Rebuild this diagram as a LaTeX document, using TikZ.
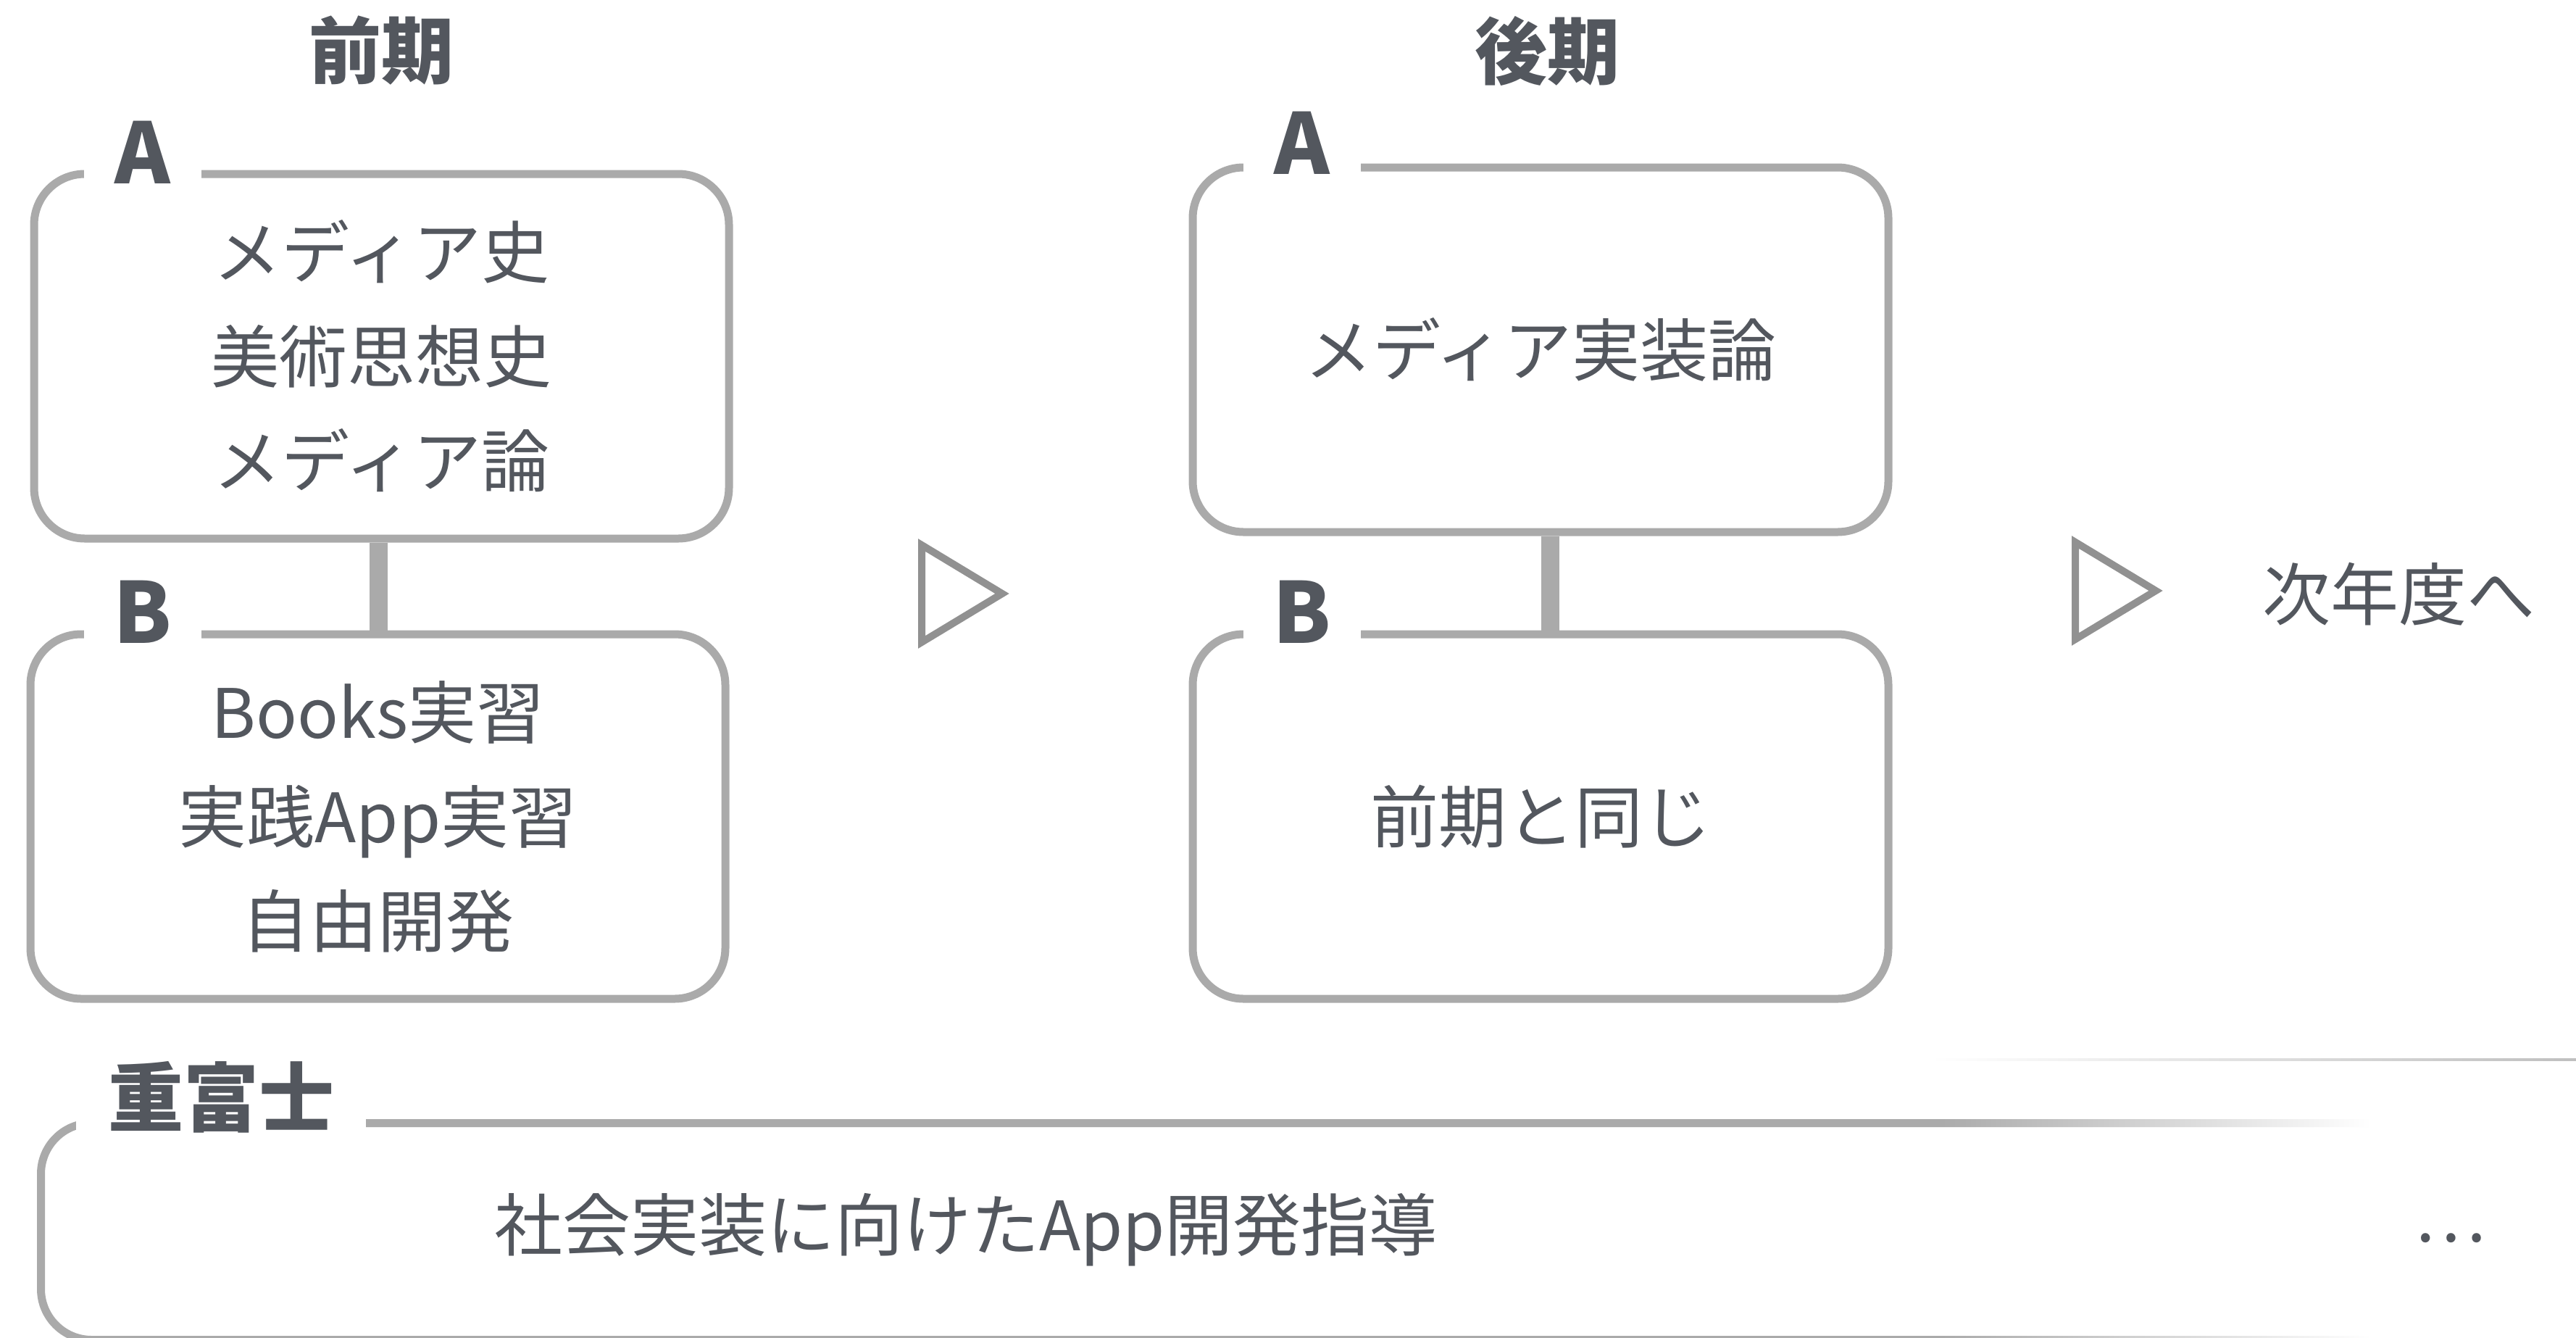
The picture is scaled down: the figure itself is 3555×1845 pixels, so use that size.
\documentclass[tikz,border=0pt]{standalone}
\usepackage{fontspec}
\setmainfont{Noto Sans CJK JP}
\usetikzlibrary{fadings}
\definecolor{txt}{RGB}{83,87,94}
\definecolor{edge}{RGB}{170,170,170}
\definecolor{tricol}{RGB}{145,145,145}
\tikzfading[name=faderight, left color=transparent!100, right color=transparent!0]
\begin{document}
\begin{tikzpicture}[x=1pt,y=-1pt,
  box/.style={draw=edge, line width=11pt, rounded corners=70pt, fill=white, inner sep=0pt,
              text=txt, font=\fontsize{94}{144}\selectfont, align=center},
  lbl/.style={fill=white, text=txt, font=\fontsize{116}{116}\selectfont\bfseries,
              inner xsep=0pt, inner ysep=6pt, minimum width=162pt, anchor=base},
  ttl/.style={text=txt, font=\fontsize{100}{100}\selectfont\bfseries, inner sep=0pt},
  body/.style={text=txt, font=\fontsize{94}{144}\selectfont, align=center, inner sep=0pt},
  conn/.style={draw=edge, line width=25pt},
  tri/.style={draw=tricol, line width=10pt, miter limit=10}
]
\useasboundingbox (0,0) rectangle (3555,1845);

% titles
\node[ttl] (t1) at (526,70) {前期};
\node[ttl] (t2) at (2135,70) {後期};

% boxes
\node[box, minimum width=959pt, minimum height=503pt] (a1) at (526.5,491.5)
  {メディア史\\美術思想史\\メディア論};
\node[box, minimum width=959pt, minimum height=503pt] (b1) at (521.5,1126.5)
  {Books実習\\実践App実習\\自由開発};
\node[box, minimum width=960pt, minimum height=503pt] (a2) at (2126,482.5)
  {メディア実装論};
\node[box, minimum width=960pt, minimum height=503pt] (b2) at (2126,1126.5)
  {前期と同じ};

% connectors
\draw[conn] ([xshift=-4.5pt]a1.south) -- ([xshift=-4.5pt]a1.south |- b1.north);
\draw[conn] ([xshift=13pt]a2.south) -- ([xshift=13pt]a2.south |- b2.north);

% labels
\node[lbl] (la1) at (197,253) {A};
\node[lbl] (lb1) at (197,887) {B};
\node[lbl] (la2) at (1797,240) {A};
\node[lbl] (lb2) at (1797,887) {B};

% arrows (triangles)
\draw[tri] (1272,752) -- (1272,886) -- (1383,819) -- cycle;
\draw[tri] (2864,748) -- (2864,882) -- (2975,815) -- cycle;

\node[body] (next) at (3310,820) {次年度へ};

% bottom box
\node[box, anchor=north west, minimum width=3749pt, minimum height=299pt] (c) at (51,1544) {};
\node[lbl, font=\fontsize{104}{104}\selectfont\bfseries, minimum width=400pt, anchor=center] (lc) at (305,1514) {重富士};
\fill[white, path fading=faderight] (2672,1530) rectangle (3270,1860);
\fill[white] (3269,1530) rectangle (3600,1860);
\shade[left color=white, right color=edge!75] (2665,1460.5) rectangle (3555,1463.5);
\node[body] (ctext) at (1333,1697) {社会実装に向けたApp開発指導};
\node[body] (dots) at (3381,1708) {…};
\end{tikzpicture}
\end{document}
